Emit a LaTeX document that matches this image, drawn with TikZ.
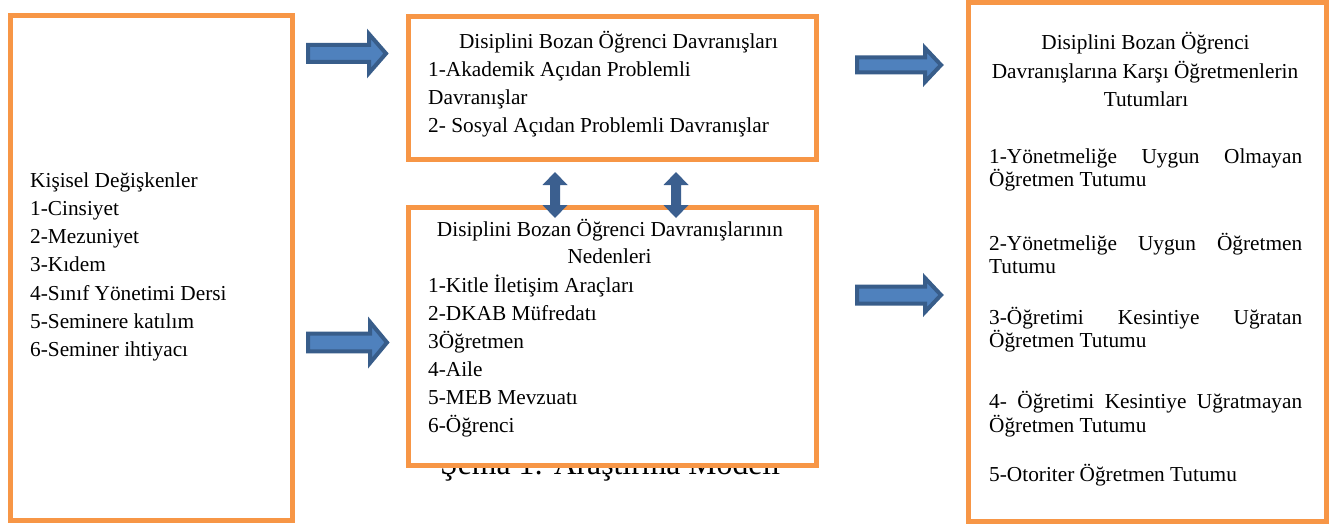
\documentclass[tikz,border=0pt]{standalone}
\usepackage{fontspec}
\setmainfont{Liberation Serif}
\definecolor{bxorange}{HTML}{F79646}
\definecolor{arfill}{HTML}{4F81BD}
\definecolor{arline}{HTML}{385D8A}
\definecolor{dblue}{HTML}{3B5F8F}
\newcommand{\blockarr}[6]{%
  \draw[barrow] (#1,{#4-#5}) -- (#2,{#4-#5}) -- (#2,{#4-#6}) -- (#3,#4) -- (#2,{#4+#6}) -- (#2,{#4+#5}) -- (#1,{#4+#5}) -- cycle;}
\newcommand{\vdarr}[3]{%
  \fill[dblue] (#1,#2) -- ({#1+12.5},{#2+13}) -- ({#1+5},{#2+13}) -- ({#1+5},{#3-13}) -- ({#1+12.5},{#3-13}) -- (#1,#3) -- ({#1-12.5},{#3-13}) -- ({#1-5},{#3-13}) -- ({#1-5},{#2+13}) -- ({#1-12.5},{#2+13}) -- cycle;}
\begin{document}
\begin{tikzpicture}[x=1pt,y=-1pt,
  box/.style={draw=bxorange, line width=5pt, fill=white, anchor=north west, inner sep=0pt},
  txt/.style={inner sep=0pt, anchor=base west, font=\fontsize{21.3}{25}\selectfont},
  txtc/.style={inner sep=0pt, anchor=base, font=\fontsize{21.3}{25}\selectfont},
  captxt/.style={inner sep=0pt, anchor=base west, font=\fontsize{31.7}{36}\selectfont},
  barrow/.style={draw=arline, fill=arfill, line width=4pt, line join=miter}]
\useasboundingbox (0,0) rectangle (1343,524);
\clip (0,0) rectangle (1343,524);
\fill[white] (0,0) rectangle (1343,524);
% caption (partly hidden behind the middle box)
\node[captxt] (cap) at (440,474) {Şema 1: Araştırma Modeli};
% boxes
\node[box, minimum width=282pt, minimum height=505pt] (L) at (8,13) {};
\node[box, minimum width=408pt, minimum height=142.5pt] (MT) at (406,14) {};
\node[box, minimum width=408pt, minimum height=258pt] (MB) at (406,205) {};
\node[box, minimum width=358pt, minimum height=519pt] (R) at (966,0.3) {};
% left texts
\foreach \t [count=\i] in {Kişisel Değişkenler, 1-Cinsiyet, 2-Mezuniyet, 3-Kıdem, 4-Sınıf Yönetimi Dersi, 5-Seminere katılım, 6-Seminer ihtiyacı}
  \node[txt] (l\i) at (30,{187+28.3*(\i-1)}) {\t};
% middle top texts
\node[txtc] (m1) at (618.5,49) {Disiplini Bozan Öğrenci Davranışları};
\node[txt] (m2) at (428,77) {1-Akademik Açıdan Problemli};
\node[txt] (m3) at (428,104.5) {Davranışlar};
\node[txt] (m4) at (428,132) {2- Sosyal Açıdan Problemli Davranışlar};
% middle bottom texts
\node[txtc] (n1) at (610,236) {Disiplini Bozan Öğrenci Davranışlarının};
\node[txtc] (n2) at (609.5,263.5) {Nedenleri};
\foreach \t [count=\i] in {1-Kitle İletişim Araçları, 2-DKAB Müfredatı, 3Öğretmen, 4-Aile, 5-MEB Mevzuatı, 6-Öğrenci}
  \node[txt] (n\the\numexpr\i+2\relax) at (428,{292+28*(\i-1)}) {\t};
% right texts
\node[txtc] (r1) at (1145.5,50) {Disiplini Bozan Öğrenci};
\node[txtc] (r2) at (1145,79) {Davranışlarına Karşı Öğretmenlerin};
\node[txtc] (r3) at (1146,107) {Tutumları};
\node[txt] (r4) at (989,163) {\hbox to 313pt{1-Yönetmeliğe\hfill Uygun\hfill Olmayan}};
\node[txt] (r5) at (989,186.5) {Öğretmen Tutumu};
\node[txt] (r6) at (989,250) {\hbox to 313pt{2-Yönetmeliğe\hfill Uygun\hfill Öğretmen}};
\node[txt] (r7) at (989,273.5) {Tutumu};
\node[txt] (r8) at (989,324) {\hbox to 313pt{3-Öğretimi\hfill Kesintiye\hfill Uğratan}};
\node[txt] (r9) at (989,347.5) {Öğretmen Tutumu};
\node[txt] (r10) at (989,408.5) {\hbox to 313pt{4-\hfill Öğretimi\hfill Kesintiye\hfill Uğratmayan}};
\node[txt] (r11) at (989,432) {Öğretmen Tutumu};
\node[txt] (r12) at (989,481) {5-Otoriter Öğretmen Tutumu};
% block arrows
\blockarr{308}{369}{386}{53.5}{8.5}{19.5}
\blockarr{308}{370}{387}{342.5}{8.8}{20.5}
\blockarr{857}{925}{941}{65}{7.5}{17}
\blockarr{857}{925}{941}{295}{8.5}{17}
% double arrows
\vdarr{555}{172}{218}
\vdarr{676}{172}{218}
\end{tikzpicture}
\end{document}
